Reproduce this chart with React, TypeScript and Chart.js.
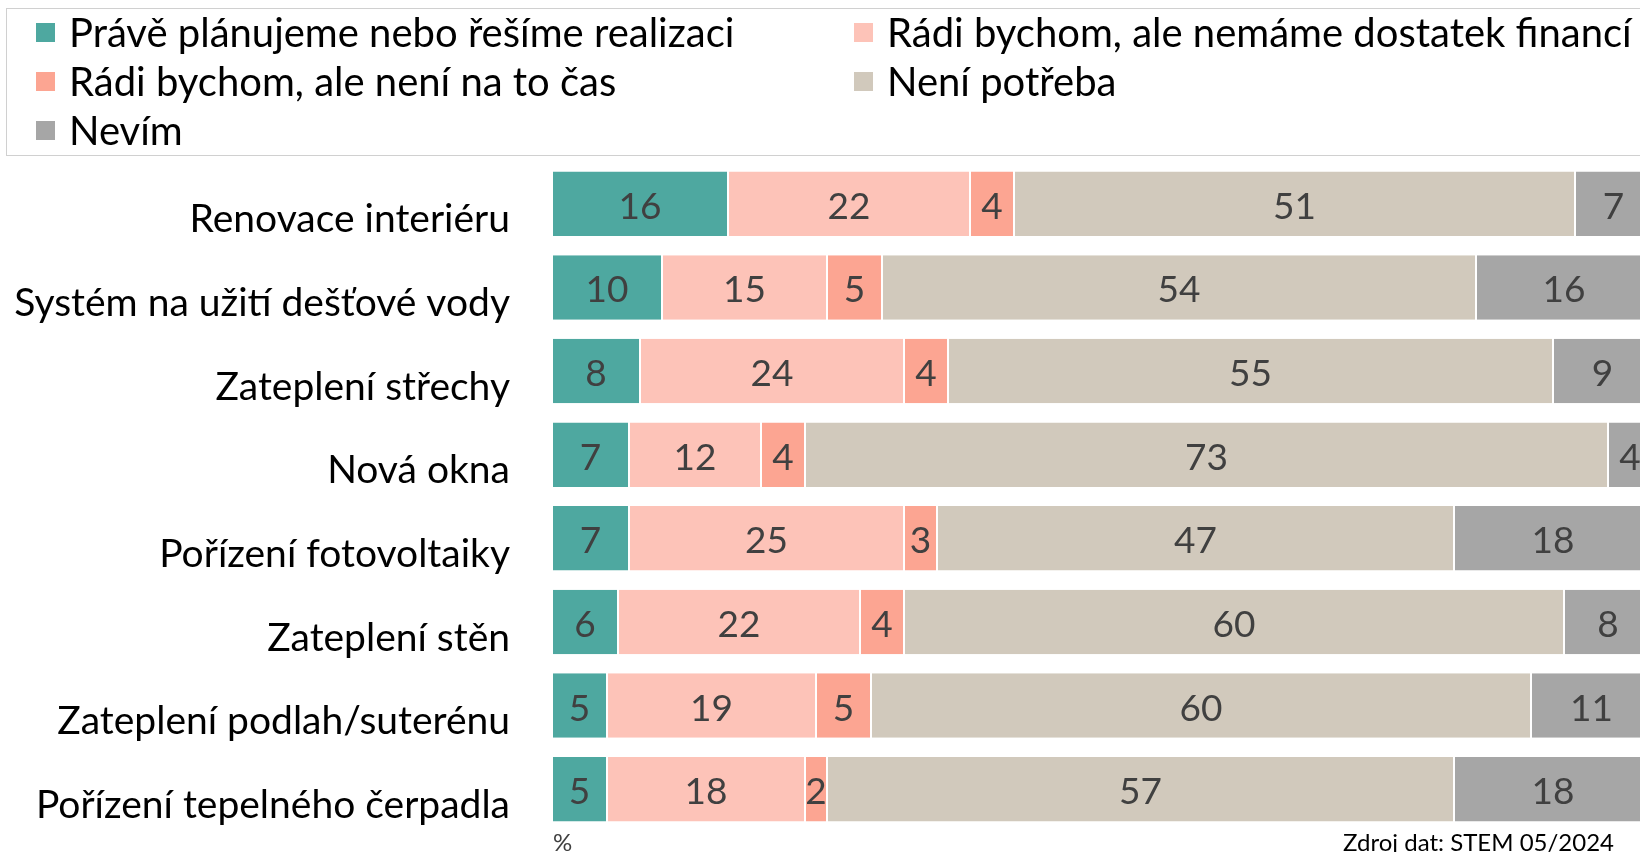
import React, { useEffect, useRef } from "react";
import { Chart, registerables } from "chart.js";

Chart.register(...registerables);

const categories = [
  "Renovace interiéru",
  "Systém na užití dešťové vody",
  "Zateplení střechy",
  "Nová okna",
  "Pořízení fotovoltaiky",
  "Zateplení stěn",
  "Zateplení podlah/suterénu",
  "Pořízení tepelného čerpadla",
];

const seriesNames = [
  "Právě plánujeme nebo řešíme realizaci",
  "Rádi bychom, ale nemáme dostatek financí",
  "Rádi bychom, ale není na to čas",
  "Není potřeba",
  "Nevím",
];

const planujeme = [16, 10, 8, 7, 7, 6, 5, 5];
const finance = [22, 15, 24, 12, 25, 22, 19, 18];
const cas = [4, 5, 4, 4, 3, 4, 5, 2];
const nePotreba = [51, 54, 55, 73, 47, 60, 60, 57];
const nevim = [7, 16, 9, 4, 18, 8, 11, 18];

const seriesValues = [planujeme, finance, cas, nePotreba, nevim];
const colors = ["#4EA8A0", "#FDC3B8", "#FCA592", "#D1C9BC", "#A6A6A6"];

const legendOrder = [0, 1, 2, 3, 4];

const FONT = "Lato, 'Open Sans', sans-serif";

const labelPlugin = {
  id: "segLabels",
  afterDatasetsDraw(chart: any) {
    const ctx = chart.ctx;
    ctx.save();
    ctx.font = `37px ${FONT}`;
    ctx.fillStyle = "#404040";
    ctx.textAlign = "center";
    ctx.textBaseline = "middle";
    chart.data.datasets.forEach((ds: any, di: number) => {
      const meta = chart.getDatasetMeta(di);
      meta.data.forEach((el: any, i: number) => {
        const v = ds.data[i];
        const cx = (el.x + el.base) / 2;
        ctx.fillText(String(v), cx, el.y + 3);
      });
    });
    ctx.restore();
  },
};

export default function App() {
  const ref = useRef<HTMLCanvasElement | null>(null);

  useEffect(() => {
    if (!ref.current) return;
    const chart = new Chart(ref.current, {
      type: "bar",
      data: {
        labels: categories,
        datasets: seriesNames.map((name, i) => ({
          label: name,
          data: seriesValues[i],
          backgroundColor: colors[i],
          borderColor: "#FFFFFF",
          borderWidth: { left: 1, right: 1, top: 0, bottom: 0 },
          borderSkipped: false,
          barPercentage: 0.77,
          categoryPercentage: 1,
        })),
      },
      options: {
        indexAxis: "y",
        animation: false,
        responsive: false,
        maintainAspectRatio: false,
        layout: { padding: { top: 162, bottom: 21, left: 0, right: 8 } },
        plugins: {
          legend: { display: false },
          tooltip: { enabled: false },
        },
        scales: {
          x: {
            stacked: true,
            min: 0,
            max: 100,
            display: false,
          },
          y: {
            stacked: true,
            grid: { display: false, drawTicks: false },
            border: { display: false },
            ticks: {
              color: "#000000",
              font: { family: FONT, size: 39 },
              padding: 42,
              labelOffset: 16,
            },
            afterFit(scale: any) {
              scale.width = 552;
              scale.paddingTop = 0;
              scale.paddingBottom = 0;
            },
          },
        },
      },
      plugins: [labelPlugin],
    });
    return () => chart.destroy();
  }, []);

  return (
    <div
      style={{
        position: "fixed",
        left: 0,
        top: 0,
        width: 1640,
        height: 852,
        overflow: "hidden",
        background: "#FFFFFF",
        fontFamily: FONT,
      }}
    >
      <canvas
        ref={ref}
        width={1660}
        height={852}
        style={{ position: "absolute", left: 0, top: 0, width: 1660, height: 852 }}
      />
      <div
        style={{
          position: "absolute",
          left: 6,
          top: 8,
          width: 1660,
          height: 148,
          border: "1px solid #D0D0D0",
          boxSizing: "border-box",
        }}
      >
        {legendOrder.map((si, k) => {
          const col = k % 2;
          const row = Math.floor(k / 2);
          return (
            <div
              key={si}
              style={{
                position: "absolute",
                left: col === 0 ? 29 : 847,
                top: 1 + row * 49,
                height: 44,
                display: "flex",
                alignItems: "center",
                whiteSpace: "nowrap",
                fontSize: 40,
                color: "#000000",
              }}
            >
              <span
                style={{
                  display: "inline-block",
                  width: 19,
                  height: 19,
                  background: colors[si],
                  marginRight: 14,
                }}
              />
              <span>{seriesNames[si]}</span>
            </div>
          );
        })}
      </div>
      <div
        style={{
          position: "absolute",
          left: 553,
          top: 828,
          fontSize: 24,
          color: "#404040",
          lineHeight: "28px",
        }}
      >
        %
      </div>
      <div
        style={{
          position: "absolute",
          right: 26,
          top: 828,
          fontSize: 24,
          color: "#000000",
          lineHeight: "28px",
          whiteSpace: "nowrap",
        }}
      >
        Zdroj dat: STEM 05/2024
      </div>
    </div>
  );
}
